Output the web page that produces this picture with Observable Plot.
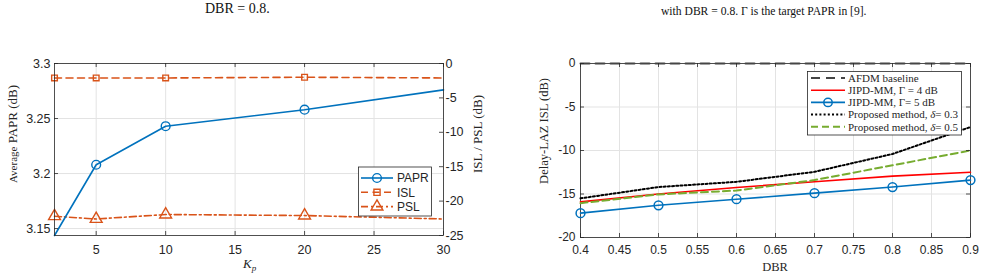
<!DOCTYPE html>
<html>
<head>
<meta charset="utf-8">
<script src="https://cdn.jsdelivr.net/npm/d3@7"></script>
<script src="https://cdn.jsdelivr.net/npm/@observablehq/plot@0.6"></script>
<style>
  body { margin: 0; background: #fff; width: 989px; height: 279px; overflow: hidden; position: relative; }
  .cap { position: absolute; font-family: "Liberation Serif", "Times New Roman", serif; font-weight: normal; color: #111; white-space: nowrap; }
  #left { position: absolute; left: 0; top: 0; }
  #right { position: absolute; left: 495px; top: 0; }
  svg { overflow: visible; }
</style>
</head>
<body>
<div class="cap" style="left:205px; top:1px; font-size:14px;">DBR = 0.8.</div>
<div class="cap" style="left:661px; top:5px; font-size:11.6px;">with DBR = 0.8. Γ is the target PAPR in [9].</div>
<div id="left"></div>
<div id="right"></div>
<script>
// ---- Left panel: PAPR and sidelobe levels versus K_p ----
const kp = [2, 5, 10, 20, 30];
const papr = [3.1437, 3.208, 3.243, 3.258, 3.276];
const isl = [-2.1, -2.1, -2.1, -2.0, -2.1];
const psl = [-22.2, -22.6, -21.95, -22.1, -22.6];
const paprMarkerKp = [5, 10, 20];
const slMarkerKp = [2, 5, 10, 20];
const kpTicks = [5, 10, 15, 20, 25, 30];
const paprTicks = [3.15, 3.2, 3.25, 3.3];
const slTicks = [0, -5, -10, -15, -20, -25];

// ---- Right panel: delay-LAZ ISL versus DBR ----
const dbr = [0.4, 0.5, 0.6, 0.7, 0.8, 0.9];
const afdm = [0, 0, 0, 0, 0, 0];
const jipd4 = [-15.9, -15.0, -14.25, -13.6, -12.95, -12.5];
const jipd5 = [-17.2, -16.3, -15.6, -14.9, -14.2, -13.4];
const prop03 = [-15.5, -14.2, -13.6, -12.45, -10.4, -7.3];
const prop05 = [-16.05, -15.05, -14.6, -13.4, -11.7, -10.0];
const dbrTicks = [0.4, 0.45, 0.5, 0.55, 0.6, 0.65, 0.7, 0.75, 0.8, 0.85, 0.9];
const islTicks = [0, -5, -10, -15, -20];

const BLUE = "#0072BD", ORANGE = "#D95319", GREEN = "#77AC30", RED = "#FF0000";
const AXC = "#262626", GRID = "#e3e3e3";
const SERIF = "'Liberation Serif', 'Times New Roman', serif";
const SANS = "'Liberation Sans', Arial, Helvetica, sans-serif";

// left y scale is PAPR; the right-hand sidelobe axis (-25..0 dB) maps onto it
const paprDomain = [3.1437, 3.3];
const slDomain = [-25, 0];
const slToPapr = d3.scaleLinear().domain(slDomain).range(paprDomain);

const leftRows = kp.map((k, i) => ({k, papr: papr[i], isl: slToPapr(isl[i]), psl: slToPapr(psl[i])}));

const L = {width: 495, height: 279, ml: 54, mr: 52, mt: 63, mb: 44};
const LWi = L.width - L.ml - L.mr, LHi = L.height - L.mt - L.mb;
const TK = 4;

const left = Plot.plot({
  width: L.width, height: L.height,
  marginLeft: L.ml, marginRight: L.mr, marginTop: L.mt, marginBottom: L.mb,
  style: {fontFamily: SANS, fontSize: "12.5px", color: AXC, background: "transparent"},
  x: {domain: [2, 30]},
  y: {domain: paprDomain},
  marks: [
    Plot.gridX(kpTicks, {stroke: GRID, strokeOpacity: 1}),
    Plot.gridY(paprTicks, {stroke: GRID, strokeOpacity: 1}),
    Plot.line(leftRows, {x: "k", y: "isl", stroke: ORANGE, strokeWidth: 1.6, strokeDasharray: "7,4.5"}),
    Plot.line(leftRows, {x: "k", y: "psl", stroke: ORANGE, strokeWidth: 1.6, strokeDasharray: "7,3,2,3"}),
    Plot.line(leftRows, {x: "k", y: "papr", stroke: BLUE, strokeWidth: 1.6}),
    Plot.dot(leftRows.filter(d => slMarkerKp.includes(d.k)), {x: "k", y: "isl", symbol: "square", r: 3.2, stroke: ORANGE, strokeWidth: 1.4, fill: "none"}),
    Plot.dot(leftRows.filter(d => slMarkerKp.includes(d.k)), {x: "k", y: "psl", symbol: "triangle", r: 4.4, stroke: ORANGE, strokeWidth: 1.4, fill: "none"}),
    Plot.dot(leftRows.filter(d => paprMarkerKp.includes(d.k)), {x: "k", y: "papr", symbol: "circle", r: 4.4, stroke: BLUE, strokeWidth: 1.4, fill: "none"}),
    Plot.frame({stroke: AXC, strokeWidth: 0.8}),
    // inward tick marks
    Plot.tickY(paprTicks, {y: d => d, insetRight: LWi - TK, stroke: AXC, strokeWidth: 0.8}),
    Plot.tickY(slTicks.map(slToPapr), {y: d => d, insetLeft: LWi - TK, stroke: AXC, strokeWidth: 0.8}),
    Plot.tickX(kpTicks, {x: d => d, insetTop: LHi - TK, stroke: AXC, strokeWidth: 0.8}),
    Plot.tickX(kpTicks, {x: d => d, insetBottom: LHi - TK, stroke: AXC, strokeWidth: 0.8}),
    Plot.axisX(kpTicks, {anchor: "bottom", tickSize: 0, tickPadding: 10, label: null, fill: AXC}),
    Plot.axisY(paprTicks, {anchor: "left", tickSize: 0, tickPadding: 4, label: null, fill: AXC, tickFormat: d => String(d)}),
    Plot.axisY(slTicks.map(slToPapr), {anchor: "right", tickSize: 0, tickPadding: 2, label: null, fill: AXC,
      tickFormat: d => String(Math.round(slToPapr.invert(d)))})
  ]
});
document.getElementById("left").append(left);

// axis titles and legend of the left panel
{
  const svg = d3.select(left);
  const yl = svg.append("text").attr("transform", "translate(17,134) rotate(-90)")
    .attr("text-anchor", "middle").attr("font-family", SERIF).attr("fill", AXC);
  yl.append("tspan").attr("font-size", "11px").text("Average");
  yl.append("tspan").attr("font-size", "13px").text(" PAPR (dB)");
  svg.append("text").attr("transform", "translate(482,134) rotate(-90)")
    .attr("text-anchor", "middle").attr("font-family", SERIF).attr("font-size", "13px").attr("fill", AXC)
    .text("ISL / PSL (dB)");
  const xl = svg.append("text").attr("x", 243).attr("y", 268).attr("text-anchor", "start")
    .attr("font-family", SERIF).attr("fill", AXC).attr("font-size", "13px");
  xl.append("tspan").attr("font-style", "italic").text("K");
  xl.append("tspan").attr("font-style", "italic").attr("font-size", "9px").attr("dy", 3).text("p");

  const g = svg.append("g").attr("text-anchor", "start");
  g.append("rect").attr("x", 358.5).attr("y", 167).attr("width", 73).attr("height", 49)
    .attr("fill", "#fff").attr("stroke", AXC).attr("stroke-width", 0.8);
  const items = [
    {name: "PAPR", color: BLUE, dash: null, sym: d3.symbolCircle, size: 60},
    {name: "ISL", color: ORANGE, dash: "7,4.5", sym: d3.symbolSquare, size: 38},
    {name: "PSL", color: ORANGE, dash: "7,3,2,3", sym: d3.symbolTriangle, size: 60}
  ];
  items.forEach((it, i) => {
    const y = 178 + i * 14.3;
    g.append("line").attr("x1", 361).attr("x2", 393).attr("y1", y).attr("y2", y)
      .attr("stroke", it.color).attr("stroke-width", 1.6).attr("stroke-dasharray", it.dash);
    g.append("path").attr("d", d3.symbol(it.sym, it.size)()).attr("transform", `translate(377,${y})`)
      .attr("fill", "none").attr("stroke", it.color).attr("stroke-width", 1.4);
    g.append("text").attr("x", 397).attr("y", y).attr("dy", "0.36em").attr("text-anchor", "start")
      .attr("font-family", SANS).attr("font-size", "12px").attr("fill", AXC).text(it.name);
  });
}

// ---- right panel ----
const rightRows = dbr.map((d, i) => ({d, afdm: afdm[i], jipd4: jipd4[i], jipd5: jipd5[i], prop03: prop03[i], prop05: prop05[i]}));
const R = {width: 494, height: 279, ml: 85, mr: 19, mt: 63, mb: 42};
const RWi = R.width - R.ml - R.mr, RHi = R.height - R.mt - R.mb;

const right = Plot.plot({
  width: R.width, height: R.height,
  marginLeft: R.ml, marginRight: R.mr, marginTop: R.mt, marginBottom: R.mb,
  style: {fontFamily: SANS, fontSize: "12px", color: AXC, background: "transparent"},
  x: {domain: [0.4, 0.9]},
  y: {domain: [-20, 0]},
  marks: [
    Plot.gridX(dbrTicks, {stroke: GRID, strokeOpacity: 1}),
    Plot.gridY(islTicks, {stroke: GRID, strokeOpacity: 1}),
    Plot.frame({stroke: AXC, strokeWidth: 0.8}),
    Plot.line(rightRows, {x: "d", y: "jipd4", stroke: RED, strokeWidth: 1.6}),
    Plot.line(rightRows, {x: "d", y: "jipd5", stroke: BLUE, strokeWidth: 1.6}),
    Plot.dot(rightRows, {x: "d", y: "jipd5", r: 4.4, stroke: BLUE, strokeWidth: 1.5, fill: "none"}),
    Plot.line(rightRows, {x: "d", y: "prop05", stroke: GREEN, strokeWidth: 2, strokeDasharray: "7,4"}),
    Plot.line(rightRows, {x: "d", y: "prop03", stroke: "#000", strokeWidth: 2, strokeDasharray: "2,2.2"}),
    Plot.line(rightRows, {x: "d", y: "afdm", stroke: "#454545", strokeWidth: 2, strokeDasharray: "9,6"}),
    Plot.tickY(islTicks, {y: d => d, insetRight: RWi - TK, stroke: AXC, strokeWidth: 0.8}),
    Plot.tickY(islTicks, {y: d => d, insetLeft: RWi - TK, stroke: AXC, strokeWidth: 0.8}),
    Plot.tickX(dbrTicks, {x: d => d, insetTop: RHi - TK, stroke: AXC, strokeWidth: 0.8}),
    Plot.tickX(dbrTicks, {x: d => d, insetBottom: RHi - TK, stroke: AXC, strokeWidth: 0.8}),
    Plot.axisX(dbrTicks, {anchor: "bottom", tickSize: 0, tickPadding: 8, label: null, fill: AXC, tickFormat: d => String(d)}),
    Plot.axisY(islTicks, {anchor: "left", tickSize: 0, tickPadding: 5, label: null, fill: AXC, tickFormat: d => String(d)})
  ]
});
document.getElementById("right").append(right);

{
  const svg = d3.select(right);
  svg.append("text").attr("transform", "translate(53,131) rotate(-90)")
    .attr("text-anchor", "middle").attr("font-family", SERIF).attr("font-size", "12.5px").attr("fill", AXC)
    .text("Delay-LAZ ISL (dB)");
  svg.append("text").attr("x", 280).attr("y", 271).attr("text-anchor", "middle")
    .attr("font-family", SERIF).attr("font-size", "12.5px").attr("fill", AXC).text("DBR");

  const g = svg.append("g").attr("text-anchor", "start");
  g.append("rect").attr("x", 312.5).attr("y", 71.5).attr("width", 154).attr("height", 63.5)
    .attr("fill", "#fff").attr("stroke", AXC).attr("stroke-width", 0.8);
  const items = [
    {parts: [["AFDM baseline"]], color: "#454545", dash: "9,6", w: 2},
    {parts: [["JIPD-MM, Γ = 4 dB"]], color: RED, dash: null, w: 1.6},
    {parts: [["JIPD-MM, Γ= 5 dB"]], color: BLUE, dash: null, w: 1.6, marker: true},
    {parts: [["Proposed method, "], ["δ", true], ["= 0.3"]], color: "#000", dash: "2,2.2", w: 2},
    {parts: [["Proposed method, "], ["δ", true], ["= 0.5"]], color: GREEN, dash: "7,4", w: 2}
  ];
  items.forEach((it, i) => {
    const y = 78 + i * 12.2;
    g.append("line").attr("x1", 316).attr("x2", 350).attr("y1", y).attr("y2", y)
      .attr("stroke", it.color).attr("stroke-width", it.w).attr("stroke-dasharray", it.dash);
    if (it.marker) g.append("circle").attr("cx", 333).attr("cy", y).attr("r", 4.2)
      .attr("fill", "none").attr("stroke", it.color).attr("stroke-width", 1.5);
    const t = g.append("text").attr("x", 353).attr("y", y).attr("dy", "0.35em").attr("text-anchor", "start")
      .attr("font-family", SERIF).attr("font-size", "11px").attr("fill", AXC);
    it.parts.forEach(([s, ital]) => t.append("tspan").attr("font-style", ital ? "italic" : null).text(s));
  });
}
</script>
</body>
</html>
